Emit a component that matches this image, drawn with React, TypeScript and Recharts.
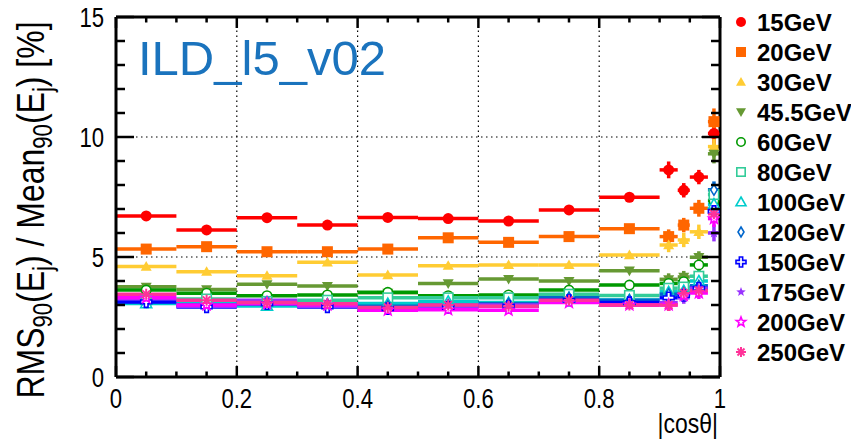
import React from 'react';
import { ScatterChart, Scatter, XAxis, YAxis, ErrorBar, ReferenceLine } from 'recharts';

// |cos(theta)| bins: 0.1 wide up to 0.9, finer in the forward region
const binCenters = [0.05, 0.15, 0.25, 0.35, 0.45, 0.55, 0.65, 0.75, 0.85, 0.915, 0.94, 0.965, 0.99];
const binHalfWidths = [0.05, 0.05, 0.05, 0.05, 0.05, 0.05, 0.05, 0.05, 0.05, 0.015, 0.01, 0.015, 0.01];

// RMS90 / Mean90 jet energy resolution [%]
const res15 = [6.71, 6.13, 6.64, 6.33, 6.65, 6.6, 6.5, 6.96, 7.49, 8.63, 7.78, 8.33, 10.15];
const res20 = [5.33, 5.43, 5.22, 5.22, 5.33, 5.8, 5.61, 5.85, 6.18, 5.85, 6.33, 7.03, 10.64];
const res30 = [4.6, 4.39, 4.22, 4.78, 4.25, 4.64, 4.67, 4.67, 5.08, 5.5, 5.71, 6.05, 9.6];
const res45 = [3.76, 3.65, 3.86, 3.79, 3.51, 3.9, 4.08, 4.0, 4.43, 4.07, 4.17, 4.99, 9.3];
const res60 = [3.62, 3.49, 3.39, 3.42, 3.53, 3.39, 3.42, 3.62, 3.83, 3.9, 3.97, 4.67, 7.35];
const res80 = [3.2, 3.25, 3.15, 3.2, 3.3, 3.3, 3.3, 3.45, 3.4, 3.7, 3.75, 4.2, 7.6];
const res100 = [3.06, 3.05, 2.96, 3.05, 3.06, 3.15, 3.1, 3.3, 3.21, 3.55, 3.6, 4.0, 7.2];
const res120 = [3.15, 3.0, 3.1, 3.0, 2.95, 3.0, 3.05, 3.3, 3.2, 3.45, 3.5, 3.8, 7.8];
const res150 = [3.13, 2.92, 3.05, 2.92, 2.85, 2.9, 2.95, 3.2, 3.1, 3.3, 3.4, 3.7, 6.9];
const res175 = [3.26, 2.95, 3.2, 2.95, 2.8, 2.95, 3.0, 3.15, 3.0, 3.1, 3.3, 3.7, 6.0];
const res200 = [3.3, 3.0, 3.05, 3.0, 2.78, 2.8, 2.78, 3.1, 3.0, 3.0, 3.4, 3.5, 6.6];
const res250 = [3.45, 3.2, 3.1, 3.05, 2.9, 3.0, 2.95, 3.2, 3.0, 3.0, 3.5, 3.6, 6.8];

// statistical errors, only visible in the four forward bins
const err15 = [0.35, 0.3, 0.3, 0.45];
const err20 = [0.3, 0.3, 0.35, 0.55];
const err30 = [0.3, 0.3, 0.3, 0.4];
const err45 = [0.25, 0.25, 0.25, 0.4];
const err60 = [0.25, 0.25, 0.25, 0.35];
const err80 = [0.25, 0.25, 0.25, 0.35];
const err100 = [0.25, 0.25, 0.25, 0.35];
const err120 = [0.25, 0.25, 0.25, 0.35];
const err150 = [0.25, 0.25, 0.25, 0.35];
const err175 = [0.25, 0.25, 0.25, 0.35];
const err200 = [0.25, 0.25, 0.25, 0.35];
const err250 = [0.25, 0.25, 0.25, 0.35];

const xTicks = [0, 0.05, 0.1, 0.15, 0.2, 0.25, 0.3, 0.35, 0.4, 0.45, 0.5, 0.55, 0.6, 0.65, 0.7, 0.75, 0.8, 0.85, 0.9, 0.95, 1];
const xMajor = [0, 0.2, 0.4, 0.6, 0.8, 1];
const yTicks = [0, 1, 2, 3, 4, 5, 6, 7, 8, 9, 10, 11, 12, 13, 14, 15];
const yMajor = [0, 5, 10, 15];
const xGrid = [0.2, 0.4, 0.6, 0.8];
const yGrid = [5, 10];

type Kind =
  | 'circle' | 'square' | 'triUp' | 'triDown' | 'openCircle' | 'openSquare'
  | 'openTri' | 'openDiamond' | 'openCross' | 'star' | 'openStar' | 'asterisk';

const series: { name: string; values: number[]; errors: number[]; color: string; kind: Kind }[] = [
  { name: '15GeV', values: res15, errors: err15, color: '#ff0000', kind: 'circle' },
  { name: '20GeV', values: res20, errors: err20, color: '#ff6600', kind: 'square' },
  { name: '30GeV', values: res30, errors: err30, color: '#ffcc33', kind: 'triUp' },
  { name: '45.5GeV', values: res45, errors: err45, color: '#669933', kind: 'triDown' },
  { name: '60GeV', values: res60, errors: err60, color: '#009900', kind: 'openCircle' },
  { name: '80GeV', values: res80, errors: err80, color: '#33cc99', kind: 'openSquare' },
  { name: '100GeV', values: res100, errors: err100, color: '#00cccc', kind: 'openTri' },
  { name: '120GeV', values: res120, errors: err120, color: '#0066cc', kind: 'openDiamond' },
  { name: '150GeV', values: res150, errors: err150, color: '#0000ff', kind: 'openCross' },
  { name: '175GeV', values: res175, errors: err175, color: '#9933ff', kind: 'star' },
  { name: '200GeV', values: res200, errors: err200, color: '#ff00ff', kind: 'openStar' },
  { name: '250GeV', values: res250, errors: err250, color: '#ff3399', kind: 'asterisk' },
];

const W = 851;
const H = 444;
const PLOT = { left: 116, right: 720, top: 17, bottom: 377 };
const FONT = '"Liberation Sans", Arial, Helvetica, sans-serif';
// axis text is set in a condensed Helvetica
const NARROW = 0.82;

const starPoints = (cx: number, cy: number, r: number) => {
  const pts: string[] = [];
  for (let i = 0; i < 10; i++) {
    const rr = i % 2 === 0 ? r : r * 0.42;
    const a = -Math.PI / 2 + (i * Math.PI) / 5;
    pts.push(`${cx + rr * Math.cos(a)},${cy + rr * Math.sin(a)}`);
  }
  return pts.join(' ');
};

const Marker = ({ kind, cx, cy, color, s }: { kind: Kind; cx: number; cy: number; color: string; s: number }) => {
  const r = s / 2;
  const sw = 1.6;
  switch (kind) {
    case 'circle':
      return <circle cx={cx} cy={cy} r={r} fill={color} />;
    case 'square':
      return <rect x={cx - r} y={cy - r} width={s} height={s} fill={color} />;
    case 'triUp':
      return <polygon points={`${cx},${cy - r} ${cx + r},${cy + r * 0.75} ${cx - r},${cy + r * 0.75}`} fill={color} />;
    case 'triDown':
      return <polygon points={`${cx},${cy + r} ${cx + r},${cy - r * 0.75} ${cx - r},${cy - r * 0.75}`} fill={color} />;
    case 'openCircle':
      return <circle cx={cx} cy={cy} r={r - sw / 2} fill="#fff" stroke={color} strokeWidth={sw} />;
    case 'openSquare':
      return <rect x={cx - r + sw / 2} y={cy - r + sw / 2} width={s - sw} height={s - sw} fill="#fff" stroke={color} strokeWidth={sw} />;
    case 'openTri':
      return <polygon points={`${cx},${cy - r} ${cx + r},${cy + r * 0.75} ${cx - r},${cy + r * 0.75}`} fill="#fff" stroke={color} strokeWidth={sw} />;
    case 'openDiamond':
      return <polygon points={`${cx},${cy - r} ${cx + r * 0.6},${cy} ${cx},${cy + r} ${cx - r * 0.6},${cy}`} fill="#fff" stroke={color} strokeWidth={sw} />;
    case 'openCross': {
      const a = r * 0.33;
      const p = [
        [-a, -r], [a, -r], [a, -a], [r, -a], [r, a], [a, a], [a, r], [-a, r], [-a, a], [-r, a], [-r, -a], [-a, -a],
      ].map(([dx, dy]) => `${cx + dx},${cy + dy}`).join(' ');
      return <polygon points={p} fill="#fff" stroke={color} strokeWidth={sw} />;
    }
    case 'star':
      return <polygon points={starPoints(cx, cy, r)} fill={color} />;
    case 'openStar':
      return <polygon points={starPoints(cx, cy, r)} fill="#fff" stroke={color} strokeWidth={sw} />;
    case 'asterisk':
      return (
        <g stroke={color} strokeWidth={sw + 0.4}>
          <line x1={cx - r} y1={cy} x2={cx + r} y2={cy} />
          <line x1={cx} y1={cy - r} x2={cx} y2={cy + r} />
          <line x1={cx - r * 0.7} y1={cy - r * 0.7} x2={cx + r * 0.7} y2={cy + r * 0.7} />
          <line x1={cx - r * 0.7} y1={cy + r * 0.7} x2={cx + r * 0.7} y2={cy - r * 0.7} />
        </g>
      );
    default:
      return null;
  }
};

const isMajor = (list: number[], v: number) => list.some((m) => Math.abs(m - v) < 1e-6);

// ROOT style: ticks point into the frame, mirrored on the top axis
const XTick = (props: any) => {
  const { x, payload } = props;
  const v = payload.value as number;
  const major = isMajor(xMajor, v);
  const len = major ? 11 : 5.5;
  return (
    <g>
      <line x1={x} y1={PLOT.bottom} x2={x} y2={PLOT.bottom - len} stroke="#000" strokeWidth={2.5} />
      <line x1={x} y1={PLOT.top} x2={x} y2={PLOT.top + len} stroke="#000" strokeWidth={2.5} />
      {major && (
        <text
          transform={`translate(${x},${PLOT.bottom + 31}) scale(${NARROW},1)`}
          textAnchor="middle"
          fontSize={27}
          fontFamily={FONT}
          fill="#000"
        >
          {String(v)}
        </text>
      )}
    </g>
  );
};

const YTick = (props: any) => {
  const { y, payload } = props;
  const v = payload.value as number;
  const major = isMajor(yMajor, v);
  const len = major ? 18 : 9;
  return (
    <g>
      <line x1={PLOT.left} y1={y} x2={PLOT.left + len} y2={y} stroke="#000" strokeWidth={2.5} />
      <line x1={PLOT.right} y1={y} x2={PLOT.right - len} y2={y} stroke="#000" strokeWidth={2.5} />
      {major && (
        <text
          transform={`translate(${PLOT.left - 12},${y}) scale(${NARROW},1)`}
          dy="0.36em"
          textAnchor="end"
          fontSize={27}
          fontFamily={FONT}
          fill="#000"
        >
          {String(v)}
        </text>
      )}
    </g>
  );
};

const Legend = () => (
  <svg width={W} height={H} style={{ position: 'absolute', left: 0, top: 0, pointerEvents: 'none' }}>
    {series.map((s, i) => {
      const cy = 22 + i * 30;
      return (
        <g key={s.name}>
          <Marker kind={s.kind} cx={741} cy={cy} color={s.color} s={10} />
          <text x={757} y={cy} dy="0.36em" fontSize={24} fontWeight="bold" fontFamily={FONT} fill="#000">
            {s.name}
          </text>
        </g>
      );
    })}
    <text x={138} y={75} fontSize={49} fontFamily={FONT} fill="#1a73bd">
      ILD_l5_v02
    </text>
    <text
      transform={`translate(718,433) scale(${NARROW},1)`}
      textAnchor="end"
      fontSize={28}
      fontFamily={FONT}
      fill="#000"
    >
      |cosθ|
    </text>
    <text
      transform={`translate(44,210) rotate(-90) scale(${NARROW},1)`}
      textAnchor="middle"
      fontSize={39}
      fontFamily={FONT}
      fill="#000"
    >
      RMS
      <tspan fontSize={27} dy={8}>90</tspan>
      <tspan dy={-8}>(E</tspan>
      <tspan fontSize={27} dy={8}>j</tspan>
      <tspan dy={-8}>) / Mean</tspan>
      <tspan fontSize={27} dy={8}>90</tspan>
      <tspan dy={-8}>(E</tspan>
      <tspan fontSize={27} dy={8}>j</tspan>
      <tspan dy={-8}>) [%]</tspan>
    </text>
  </svg>
);

const App: React.FC = () => {
  const data = series.map((s) =>
    binCenters.map((x, i) => ({
      x,
      y: s.values[i],
      ex: binHalfWidths[i],
      ey: i < 9 ? 0 : s.errors[i - 9],
    })),
  );

  return (
    <div style={{ position: 'absolute', left: 0, top: 0, width: W, height: H, background: '#fff' }}>
      <ScatterChart
        width={W}
        height={H}
        margin={{ top: PLOT.top, right: W - PLOT.right, bottom: 0, left: 0 }}
      >
        <XAxis
          type="number"
          dataKey="x"
          domain={[0, 1]}
          ticks={xTicks}
          interval={0}
          height={H - PLOT.bottom}
          tickSize={0}
          tickMargin={0}
          axisLine={false}
          tick={(p: any) => <XTick {...p} />}
          allowDataOverflow
        />
        <YAxis
          type="number"
          dataKey="y"
          domain={[0, 15]}
          ticks={yTicks}
          interval={0}
          width={PLOT.left}
          tickSize={0}
          tickMargin={0}
          axisLine={false}
          tick={(p: any) => <YTick {...p} />}
          allowDataOverflow
        />
        {xGrid.map((g) => (
          <ReferenceLine key={`gx${g}`} x={g} stroke="#000" strokeWidth={1.2} strokeDasharray="1.5 3.5" />
        ))}
        {yGrid.map((g) => (
          <ReferenceLine key={`gy${g}`} y={g} stroke="#000" strokeWidth={1.2} strokeDasharray="1.5 3.5" />
        ))}
        {series.map((s, k) => (
          <Scatter
            key={s.name}
            name={s.name}
            data={data[k]}
            isAnimationActive={false}
            shape={(p: any) => <Marker kind={s.kind} cx={p.cx} cy={p.cy} color={s.color} s={11} />}
          >
            <ErrorBar dataKey="ex" direction="x" width={0} stroke={s.color} strokeWidth={3.5} />
            <ErrorBar dataKey="ey" direction="y" width={0} stroke={s.color} strokeWidth={3.5} />
          </Scatter>
        ))}
        <ReferenceLine x={0} stroke="#000" strokeWidth={3} />
        <ReferenceLine x={1} stroke="#000" strokeWidth={3} />
        <ReferenceLine y={0} stroke="#000" strokeWidth={3} />
        <ReferenceLine y={15} stroke="#000" strokeWidth={3} />
      </ScatterChart>
      <Legend />
    </div>
  );
};

export default App;
